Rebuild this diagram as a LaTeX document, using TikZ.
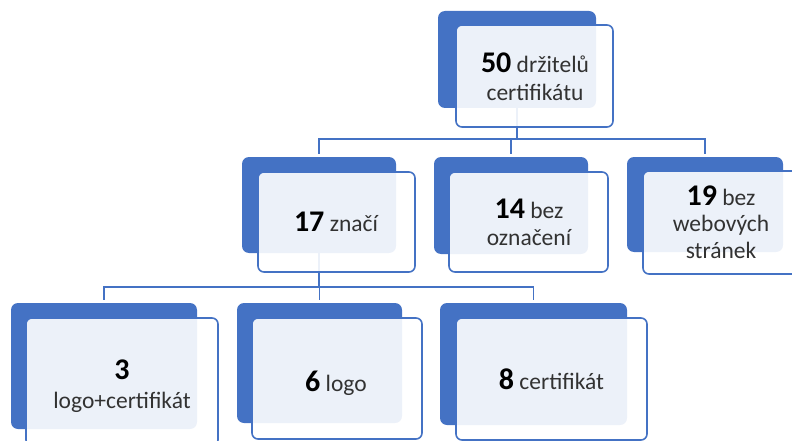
\documentclass[tikz,border=0pt]{standalone}
\usepackage{fontspec}
\setmainfont{Carlito}
\definecolor{accent}{RGB}{68,114,196}
\definecolor{txt}{RGB}{50,50,50}
\newcommand\numfont{\fontsize{30}{28}\selectfont\bfseries\color{black}}
\begin{document}
\begin{tikzpicture}[x=1pt,y=-1pt,
  back/.style={rectangle, rounded corners=7pt, fill=accent, draw=none, inner sep=0pt, outer sep=0pt, anchor=north west},
  front/.style={rectangle, rounded corners=6pt, draw=accent, line width=1.6pt, fill=white, fill opacity=0.9, draw opacity=1, inner sep=0pt, outer sep=0pt, anchor=north west},
  link/.style={draw=accent, line width=1.8pt, shorten >=3pt},
  lbl/.style={align=center, text=txt, inner sep=0pt, font=\fontsize{23.5}{27}\selectfont}]
\useasboundingbox[clip] (0,0) rectangle (792,441);
% back rectangles
\node[back, minimum width=158pt, minimum height=97pt]  (b50) at (438,11) {};
\node[back, minimum width=154pt, minimum height=96pt]  (b17) at (242,157) {};
\node[back, minimum width=154pt, minimum height=97pt]  (b14) at (434,157) {};
\node[back, minimum width=156pt, minimum height=95pt]  (b19) at (627,157) {};
\node[back, minimum width=186pt, minimum height=126pt] (b3)  at (11,303) {};
\node[back, minimum width=165pt, minimum height=120pt] (b6)  at (237,303) {};
\node[back, minimum width=187pt, minimum height=122pt] (b8)  at (440,303) {};
% connectors
\draw[link, shorten >=0pt] (b50.south) -- ++(0,31) coordinate (j1);
\draw[link] (j1) -| (b17.north);
\draw[link] (j1) -| (b14.north);
\draw[link] (j1) -| (b19.north);
\draw[link, shorten >=0pt] (b17.south) -- ++(0,34) coordinate (j2);
\draw[link] (j2) -| (b3.north);
\draw[link] (j2) -| (b6.north);
\draw[link] (j2) -| (b8.north);
% front rectangles
\node[front, minimum width=157pt, minimum height=102pt] (f50) at (456,25) {};
\node[front, minimum width=157pt, minimum height=100pt] (f17) at (258,172) {};
\node[front, minimum width=159pt, minimum height=100pt] (f14) at (449,172) {};
\node[front, minimum width=157pt, minimum height=103pt] (f19) at (643,171) {};
\node[front, minimum width=192pt, minimum height=128pt] (f3)  at (26,318) {};
\node[front, minimum width=170pt, minimum height=121pt] (f6)  at (252,318) {};
\node[front, minimum width=191pt, minimum height=122pt] (f8)  at (456,318) {};
% labels
\node[lbl, font=\fontsize{23.5}{28}\selectfont] (t50) at (535,76.5) {{\numfont 50} držitelů\\certifikátu};
\node[lbl] (t17) at (336,221.5) {{\numfont 17} značí};
\node[lbl] (t14) at (529,222) {{\numfont 14} bez\\označení};
\node[lbl, font=\fontsize{23.5}{26.5}\selectfont] (t19) at (721,222) {{\numfont 19} bez\\webových\\stránek};
\node[lbl, font=\fontsize{23.5}{29}\selectfont] (t3) at (122,386.5) {{\numfont 3}\\logo+certifikát};
\node[lbl] (t6) at (336,383) {{\numfont 6} logo};
\node[lbl] (t8) at (551.5,379.5) {{\numfont 8} certifikát};
\end{tikzpicture}
\end{document}
